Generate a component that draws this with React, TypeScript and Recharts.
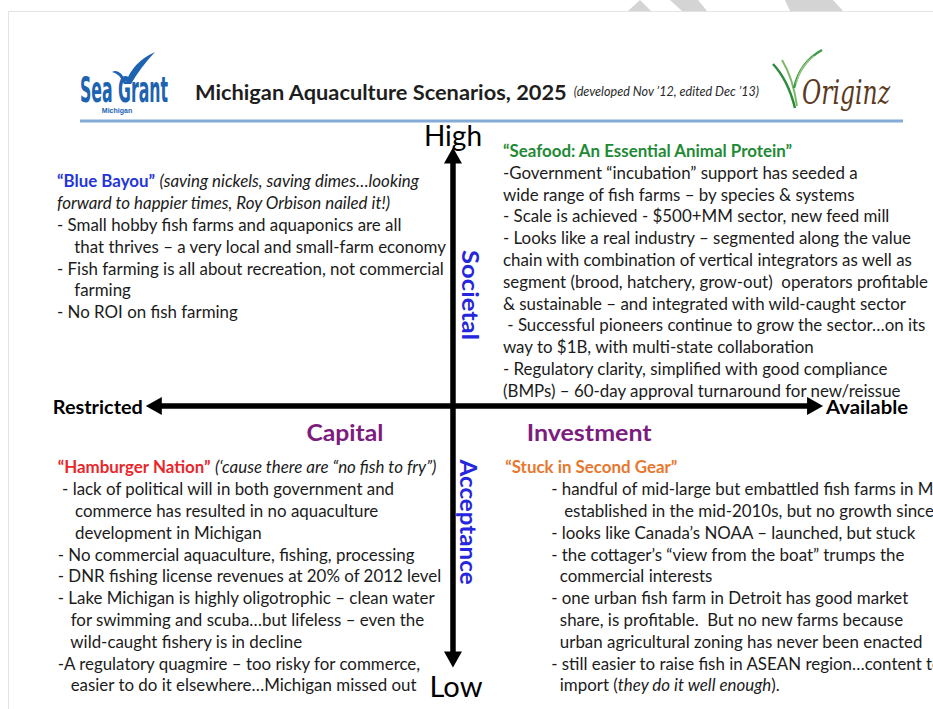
import { ScatterChart, Scatter, XAxis, YAxis, ReferenceLine, ReferenceDot } from "recharts";

const FONT = "Lato, 'Open Sans', sans-serif";
const W = 933;
const H = 709;

// scenario matrix: x = capital investment (restricted -> available), y = societal acceptance (low -> high)
const scenarioNames = [
  "“Blue Bayou”",
  "“Seafood: An Essential Animal Protein”",
  "“Hamburger Nation”",
  "“Stuck in Second Gear”",
];
const scenarioColors = ["#2436d8", "#1f8a35", "#e8262b", "#e8772e"];

// text after the title on the first line, then body lines; _..._ = italic
const blueBayouLines = [
  " _(saving nickels, saving dimes…looking_",
  "_forward to happier times, Roy Orbison nailed it!)_",
  "- Small hobby fish farms and aquaponics are all",
  "    that thrives – a very local and small-farm economy",
  "- Fish farming is all about recreation, not commercial",
  "    farming",
  "- No ROI on fish farming",
];
const seafoodLines = [
  "",
  "-Government “incubation” support has seeded a",
  "wide range of fish farms – by species & systems",
  "- Scale is achieved - $500+MM sector, new feed mill",
  "- Looks like a real industry – segmented along the value",
  "chain with combination of vertical integrators as well as",
  "segment (brood, hatchery, grow-out)  operators profitable",
  "& sustainable – and integrated with wild-caught sector",
  " - Successful pioneers continue to grow the sector…on its",
  "way to $1B, with multi-state collaboration",
  "- Regulatory clarity, simplified with good compliance",
  "(BMPs) – 60-day approval turnaround for new/reissue",
];
const hamburgerLines = [
  " _(‘cause there are “no fish to fry”)_",
  " - lack of political will in both government and",
  "    commerce has resulted in no aquaculture",
  "    development in Michigan",
  "- No commercial aquaculture, fishing, processing",
  "- DNR fishing license revenues at 20% of 2012 level",
  "- Lake Michigan is highly oligotrophic – clean water",
  "   for swimming and scuba…but lifeless – even the",
  "   wild-caught fishery is in decline",
  "-A regulatory quagmire – too risky for commerce,",
  "   easier to do it elsewhere…Michigan missed out",
];
const stuckLines = [
  "",
  "- handful of mid-large but embattled fish farms in Michigan",
  "   established in the mid-2010s, but no growth since",
  "- looks like Canada’s NOAA – launched, but stuck",
  "- the cottager’s “view from the boat” trumps the",
  "  commercial interests",
  "- one urban fish farm in Detroit has good market",
  "  share, is profitable.  But no new farms because",
  "  urban agricultural zoning has never been enacted",
  "- still easier to raise fish in ASEAN region…content to",
  "  import (_they do it well enough_).",
];
const scenarioLines = [blueBayouLines, seafoodLines, hamburgerLines, stuckLines];

// axis end labels
const capitalEnds = ["Restricted", "Available"];
const acceptanceEnds = ["Low", "High"];
const capitalWords = ["Capital", "Investment"];
const acceptanceWords = ["Societal", "Acceptance"];

// layout (in the matrix's own units, 0,0 = axes crossing)
const LAYOUT = {
  xDomain: [-1.224, 1.297],
  yDomain: [-1.165, 1.562],
  xArrow: [-0.83, 1],
  yArrow: [-1.005, 0.995],
  anchors: [
    [-1.07, 0.868],
    [0.135, 0.985],
    [-1.068, -0.232],
    [0.141, -0.232],
  ],
  bodyIndent: [0, 0, 0, 46],
  lineH: 21.8,
};

const data = scenarioNames.map((name, i) => ({
  x: LAYOUT.anchors[i][0],
  y: LAYOUT.anchors[i][1],
  name,
  color: scenarioColors[i],
  lines: scenarioLines[i],
  indent: LAYOUT.bodyIndent[i],
}));

function Segments({ str }: { str: string }) {
  const parts = str.split("_");
  return (
    <>
      {parts.map((p, i) => (
        <tspan key={i} fontStyle={i % 2 ? "italic" : "normal"}>
          {p}
        </tspan>
      ))}
    </>
  );
}

function ScenarioBlock(props: any) {
  const { cx, cy, payload } = props;
  if (cx == null || cy == null) return null;
  const lines: string[] = payload.lines;
  return (
    <g fontFamily={FONT} fontSize={16.9} fill="#1b1b1b">
      {lines.map((ln, i) => (
        <text
          key={i}
          x={cx + (i === 0 ? 0 : payload.indent)}
          y={cy + i * LAYOUT.lineH}
          dominantBaseline="central"
          xmlSpace="preserve"
          style={{ whiteSpace: "pre" }}
        >
          {i === 0 && (
            <tspan fontWeight="bold" fill={payload.color}>
              {payload.name}
            </tspan>
          )}
          <Segments str={ln} />
        </text>
      ))}
    </g>
  );
}

function ArrowAxis(props: any) {
  const { x1, y1, x2, y2 } = props;
  const L = 16;
  const hw = 9;
  const t = 5.5;
  if (Math.abs(y2 - y1) < Math.abs(x2 - x1)) {
    const a = Math.min(x1, x2);
    const b = Math.max(x1, x2);
    const y = y1;
    return (
      <g fill="#000">
        <line x1={a + L - 1} y1={y} x2={b - L + 1} y2={y} stroke="#000" strokeWidth={t} />
        <polygon points={`${a},${y} ${a + L},${y - hw} ${a + L},${y + hw}`} />
        <polygon points={`${b},${y} ${b - L},${y - hw} ${b - L},${y + hw}`} />
      </g>
    );
  }
  const a = Math.min(y1, y2);
  const b = Math.max(y1, y2);
  const x = x1;
  return (
    <g fill="#000">
      <line x1={x} y1={a + L - 1} x2={x} y2={b - L + 1} stroke="#000" strokeWidth={t} />
      <polygon points={`${x},${a} ${x - hw},${a + L} ${x + hw},${a + L}`} />
      <polygon points={`${x},${b} ${x - hw},${b - L} ${x + hw},${b - L}`} />
    </g>
  );
}

const label =
  (text: string, opts: any) =>
  (p: any) =>
    (
      <text
        x={p.cx + (opts.dx || 0)}
        y={p.cy + (opts.dy || 0)}
        textAnchor={opts.anchor || "middle"}
        dominantBaseline="central"
        fontFamily={FONT}
        fontSize={opts.size}
        fontWeight={opts.weight || "normal"}
        fill={opts.color || "#000"}
        textLength={opts.len}
        lengthAdjust={opts.len ? "spacingAndGlyphs" : undefined}
        transform={opts.rotate ? `rotate(90 ${p.cx} ${p.cy})` : undefined}
      >
        {text}
      </text>
    );

function Header() {
  return (
    <svg width={W} height={H} style={{ position: "absolute", left: 0, top: 0 }}>
      <rect x={0} y={0} width={W} height={H} fill="#fff" />
      <rect x={8.5} y={11.5} width={W} height={H} fill="#fff" stroke="#e4e4e4" />
      <polygon points="628,11 640,0 651,11" fill="#d4d4d4" />
      <polygon points="670,0 698,0 707,11 682,11" fill="#d4d4d4" />
      <polygon points="785,0 833,0 843,11 790,11" fill="#d4d4d4" />
      {/* Sea Grant logo */}
      <path d="M112,72 Q120,68 126,82 Q133,62 155,52 Q140,68 131,84 L124,84 Q119,73 112,72 Z" fill="#1d63b0" />
      <text x={80} y={102} fontFamily="'Liberation Sans Narrow', 'DejaVu Sans Condensed', sans-serif" fontWeight="bold" fontSize={36} fill="#1d63b0" textLength={88} lengthAdjust="spacingAndGlyphs">
        Sea Grant
      </text>
      <text x={117} y={113} textAnchor="middle" fontFamily="'Liberation Sans Narrow', sans-serif" fontWeight="bold" fontSize={7} fill="#1d63b0">
        Michigan
      </text>
      {/* title */}
      <text x={195} y={91} dominantBaseline="central" fontFamily={FONT} fill="#1e1e1e">
        <tspan fontWeight="bold" fontSize={21.8}>
          Michigan Aquaculture Scenarios, 2025
        </tspan>
        <tspan fontStyle="italic" fontSize={12.6} dx={7} fill="#2a2a2a">
          (developed Nov ’12, edited Dec ’13)
        </tspan>
      </text>
      {/* Originz logo */}
      <path d="M773,64 Q788,80 795,108" stroke="#2f8a3c" strokeWidth={2.5} fill="none" />
      <path d="M782,60 Q793,78 797,106" stroke="#7cb866" strokeWidth={2} fill="none" />
      <path d="M822,50 Q800,62 794,88" stroke="#3f9a48" strokeWidth={2.5} fill="none" />
      <path d="M814,56 Q800,66 796,84" stroke="#9cc98a" strokeWidth={1.5} fill="none" />
      <text
        x={802}
        y={104}
        fontFamily="'DejaVu Serif', serif"
        fontStyle="italic"
        fontSize={34}
        fill="#5b3a1e"
        textLength={88}
        lengthAdjust="spacingAndGlyphs"
      >
        Originz
      </text>
      <line x1={80} y1={121} x2={903} y2={121} stroke="#84abd6" strokeWidth={3} />
    </svg>
  );
}

export default function App() {
  return (
    <div style={{ position: "relative", width: W, height: H, overflow: "hidden" }}>
      <style>{`body{margin:0}`}</style>
      <Header />
      <div style={{ position: "absolute", left: 0, top: 0 }}>
        <ScatterChart width={W} height={H} margin={{ top: 0, right: 0, bottom: 0, left: 0 }}>
          <XAxis type="number" dataKey="x" domain={LAYOUT.xDomain} hide allowDataOverflow />
          <YAxis type="number" dataKey="y" domain={LAYOUT.yDomain} hide allowDataOverflow />
          <Scatter data={data} shape={ScenarioBlock} isAnimationActive={false} />
          <ReferenceLine
            segment={[
              { x: LAYOUT.xArrow[0], y: 0 },
              { x: LAYOUT.xArrow[1], y: 0 },
            ]}
            shape={ArrowAxis}
          />
          <ReferenceLine
            segment={[
              { x: 0, y: LAYOUT.yArrow[0] },
              { x: 0, y: LAYOUT.yArrow[1] },
            ]}
            shape={ArrowAxis}
          />
          <ReferenceDot x={LAYOUT.xArrow[0]} y={0} r={0} shape={label(capitalEnds[0], { anchor: "end", dx: -3, size: 19, weight: "bold", len: 90 })} />
          <ReferenceDot x={LAYOUT.xArrow[1]} y={0} r={0} shape={label(capitalEnds[1], { anchor: "start", dx: 3, size: 19, weight: "bold", len: 82 })} />
          <ReferenceDot x={0} y={LAYOUT.yArrow[1]} r={0} shape={label(acceptanceEnds[1], { dy: -12, size: 28, len: 58 })} />
          <ReferenceDot x={0} y={LAYOUT.yArrow[0]} r={0} shape={label(acceptanceEnds[0], { dx: 3, dy: 19, size: 28, len: 53 })} />
          <ReferenceDot x={-0.292} y={-0.1} r={0} shape={label(capitalWords[0], { size: 23, weight: "bold", color: "#7b1c7e", len: 77 })} />
          <ReferenceDot x={0.368} y={-0.1} r={0} shape={label(capitalWords[1], { size: 23, weight: "bold", color: "#7b1c7e", len: 125 })} />
          <ReferenceDot x={0.046} y={0.427} r={0} shape={label(acceptanceWords[0], { size: 22, weight: "bold", color: "#2626dc", rotate: true, len: 90 })} />
          <ReferenceDot x={0.041} y={-0.446} r={0} shape={label(acceptanceWords[1], { size: 22, weight: "bold", color: "#2626dc", rotate: true, len: 125 })} />
        </ScatterChart>
      </div>
    </div>
  );
}
